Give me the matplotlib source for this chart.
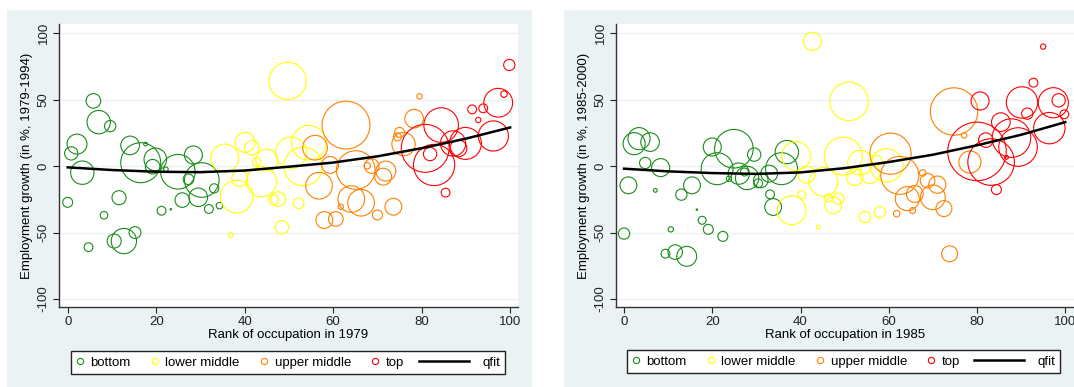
import numpy as np
import matplotlib
matplotlib.use("Agg")
import matplotlib.pyplot as plt
from matplotlib.lines import Line2D
from matplotlib.patches import Rectangle

# ---------------- data: 1979-1994 panel ----------------
bottom79_rank = [0, 0.8, 2.1, 3.3, 4.7, 5.8, 7, 8.2, 9.6, 10.5, 11.6, 12.7, 14.1, 15.2, 16.5,
                 17.6, 19.8, 19.2, 21.2, 22.2, 23.3, 24.9, 25.9, 27.3, 28.4, 30.3, 29.5, 31.9, 33.1, 34.3]
bottom79_growth = [-27.3, 9.5, 16.5, -5, -61, 49, 33, -37, 30, -56.4, -23.8, -56.4, 15.5, -50, 2.5,
                   16.5, 5, -0.5, -33.6, -2.5, -32.5, -4.3, -25.6, -10, 8.3, -10.5, -23.5, -32.3, -16.8, -29.8]
bottom79_emp = [14, 25, 56, 77, 11, 30, 77, 8, 18, 28, 28, 90, 49, 20, 225,
                2, 72, 30, 11, 3, 0.3, 169, 30, 16, 46, 169, 49, 11, 12, 6]

lowmid79_rank = [35.5, 36.8, 38.2, 38.9, 40.1, 41.6, 42.7, 43.8, 45, 46.5, 47.6, 48.4, 49.7, 50.5,
                 52.2, 53.2, 54.5]
lowmid79_growth = [6, -51.9, -23, -9.3, 17.8, 13.8, 3.3, -11.8, 4.5, -25.3, -24.8, -46, 64, 10,
                   -28, -0.3, 17.5]
lowmid79_emp = [110, 3, 151, 36, 56, 30, 10, 128, 67, 14, 30, 25, 196, 139, 16, 210, 169]

upmid79_rank = [55.9, 56.8, 58, 59.3, 60.6, 61.7, 62.9, 64.1, 65.1, 66.3, 67.7, 68.7, 70, 71.3,
                71.9, 73.6, 74.5, 75, 75.9, 78.3, 79.5]
upmid79_growth = [13.8, -14.8, -40.6, 0.8, -39.8, -30.6, 30.8, -24.8, -3, -27.6, 0.2, 0, -36.8, -8,
                  -3.8, -30.6, 22, 25.3, 16.5, 35.6, 52.4]
upmid79_emp = [86, 100, 40, 40, 30, 4, 324, 100, 210, 100, 6, 30, 14, 40, 56, 40, 9, 14, 77, 49, 4]

top79_rank = [80.8, 81.9, 82.8, 84.4, 85.4, 87.1, 88.3, 89.9, 91.4, 92.8, 93.9, 96.2, 97.3, 98.6, 99.8]
top79_growth = [13.3, 9, 0.8, 30.8, -20, 17, 13.3, 17, 42.6, 34.6, 43.4, 22.6, 47.6, 54.1, 76]
top79_emp = [324, 25, 240, 169, 11, 90, 40, 144, 11, 4, 11, 128, 117, 6, 18]

qfit79_rank = [0, 10, 20, 30, 40, 50, 60, 70, 80, 90, 100]
qfit79_growth = [-1, -3, -4.3, -4.6, -3.4, -0.5, 2.6, 7.3, 13.4, 20.6, 29]

# ---------------- data: 1985-2000 panel ----------------
bottom85_rank = [2.3, 3.4, 5.9, 4.8, 8.3, 1, 7.1, 13, 15.4, 16.5, 0, 10.6, 9.4, 11.6, 14.2, 17.7, 19.1,
                 22.4, 20, 21.1, 24.9, 29.5, 26, 27.9, 23.8, 27.3, 31, 32.9, 30.4, 33.1, 33.8, 36.9, 35.7]
bottom85_growth = [16.8, 20.6, 18, 2.3, -1.2, -14.5, -18.3, -21.5, -14.5, -32.8, -50.8, -47.6, -65.9,
                   -64.7, -67.9, -40.8, -47.6, -52.9, 14.3, -2, 13, 8.6, -5.7, -9, -9.5, -4.5, -10.8,
                   -5.7, -13, -21.3, -30.8, 10.5, -2]
bottom85_emp = [69, 69, 49, 18, 46, 40, 2, 18, 40, 0.3, 18, 4, 11, 30, 56, 9, 14,
                14, 46, 144, 210, 25, 64, 77, 4, 9, 30, 40, 11, 11, 40, 77, 144]

lowmid85_rank = [42.7, 51, 39, 41.4, 45.2, 40.3, 38, 44, 49.7, 46.3, 48.6, 47.4, 53.5, 52.3, 55.7,
                 59.5, 54.6, 58, 57.3]
lowmid85_growth = [93.8, 48.6, 7.5, -6.5, -12, -21.5, -33.3, -45.9, 7.5, -24, -24.5, -29.5, 2.5, -8.3,
                   -5.7, 0.5, -38.3, -34.6, 4.3]
lowmid85_emp = [46, 210, 117, 40, 117, 9, 117, 2, 204, 9, 18, 40, 86, 40, 56, 156, 18, 18, 14]

upmid85_rank = [60.4, 61.8, 62.5, 64.2, 65.4, 65.9, 67.7, 68.8, 70, 71, 72.5, 73.8, 74.8, 77.1, 78.4]
upmid85_growth = [9.3, -35.8, -7, -24.5, -33.5, -21, -5.2, -11, -23.5, -14, -32, -66, 41, 23, 3]
upmid85_emp = [240, 6, 204, 81, 5, 40, 6, 30, 86, 42, 36, 36, 317, 4, 69]

top85_rank = [80, 83.2, 82, 84.4, 85.4, 86.7, 87.8, 89.3, 80.7, 90.2, 91.4, 92.8, 95, 96.4, 97.3, 98.5, 99.8]
top85_growth = [11, 3, 19.5, -17.7, 33, 6.5, 21, 14.3, 48.9, 47.8, 39.4, 62.7, 89.8, 28.5, 47.6, 49.4, 38.9]
top85_emp = [484, 306, 30, 14, 49, 2, 210, 210, 46, 139, 18, 11, 4, 139, 128, 25, 11]

qfit85_rank = [0, 10, 20, 30, 40, 50, 60, 70, 80, 90, 100]
qfit85_growth = [-2, -4, -5.3, -5.9, -4.8, -1.6, 3, 8.5, 15.6, 23.5, 33]

group_labels = ["bottom", "lower middle", "upper middle", "top"]
group_colors = ["#1a8c1a", "#ffff00", "#ff8000", "#ff0000"]

# ---------------- style ----------------
plt.rcParams['font.family'] = ['Liberation Sans', 'DejaVu Sans']
plt.rcParams['font.size'] = 9.5
plt.rcParams['axes.unicode_minus'] = False

W, H = 1074, 387
BG = "#eaf2f3"
SIZE = 3.67   # points^2 per unit of employment weight


def fbox(l, t, r, b):
    # pixel box -> figure fraction [left, bottom, width, height]
    return [l / W, 1 - b / H, (r - l) / W, (b - t) / H]


def draw_panel(fig, box, groups, qx, qy, year, period):
    ax = fig.add_axes(box)
    ax.set_facecolor("white")
    for (x, y, emp), col in zip(groups, group_colors):
        ax.scatter(x, y, s=np.array(emp) * SIZE, facecolors="none", edgecolors=col,
                   linewidths=0.8, zorder=3)
    ax.plot(qx, qy, color="black", lw=1.8, zorder=4)

    ax.set_xlim(-1.9, 101.7)
    ax.set_ylim(-106, 106.8)
    ax.set_xticks([0, 20, 40, 60, 80, 100])
    ax.set_yticks([-100, -50, 0, 50, 100])
    ax.tick_params(axis="x", length=4.3, width=0.8, pad=2, colors="#222222")
    ax.tick_params(axis="y", length=4.3, width=0.8, pad=2.5, colors="#222222", labelrotation=90)
    for lab in ax.get_yticklabels():
        lab.set_va("center")
    ax.yaxis.grid(True, color=BG, lw=1)
    ax.set_axisbelow(True)
    for s in ["top", "right"]:
        ax.spines[s].set_visible(False)
    for s in ["left", "bottom"]:
        ax.spines[s].set_color("#333333")
        ax.spines[s].set_linewidth(1)

    ax.set_xlabel(f"Rank of occupation in {year}")
    ax.set_ylabel(f"Employment growth (in %, {period})")
    ax.xaxis.set_label_coords(0.5, -0.077)
    ax.yaxis.set_label_coords(-0.057, 0.5)
    return ax


def draw_legend(fig, left, right, top, bottom):
    fig.add_artist(Rectangle((left / W, 1 - bottom / H), (right - left) / W, (bottom - top) / H,
                             transform=fig.transFigure, fc="white", ec="#222222", lw=1, zorder=4))
    yc = 1 - (top + bottom) / 2 / H
    handles = [Line2D([], [], marker="o", ls="none", mfc="none", mec=c, ms=4.5, mew=0.8)
               for c in group_colors]
    fig.legend(handles, group_labels, loc="center left", bbox_to_anchor=((left + 2) / W, yc),
               ncol=4, frameon=False, handlelength=1.0, handletextpad=0.3, columnspacing=1.35,
               borderpad=0, borderaxespad=0)
    qline = Line2D([], [], color="black", lw=1.8)
    fig.legend([qline], ["qfit"], loc="center right", bbox_to_anchor=((right - 5) / W, yc),
               frameon=False, handlelength=3.8, handletextpad=1.0, borderpad=0, borderaxespad=0)


fig = plt.figure(figsize=(W / 100, H / 100), dpi=100)
fig.patch.set_facecolor("white")
fig.add_artist(Rectangle((7 / W, 0), (532 - 7) / W, (H - 10) / H, transform=fig.transFigure,
                         fc=BG, ec="none", zorder=0))
fig.add_artist(Rectangle((564 / W, 0), (W - 564) / W, (H - 10) / H, transform=fig.transFigure,
                         fc=BG, ec="none", zorder=0))

groups79 = [(bottom79_rank, bottom79_growth, bottom79_emp),
            (lowmid79_rank, lowmid79_growth, lowmid79_emp),
            (upmid79_rank, upmid79_growth, upmid79_emp),
            (top79_rank, top79_growth, top79_emp)]
groups85 = [(bottom85_rank, bottom85_growth, bottom85_emp),
            (lowmid85_rank, lowmid85_growth, lowmid85_emp),
            (upmid85_rank, upmid85_growth, upmid85_emp),
            (top85_rank, top85_growth, top85_emp)]

ax1 = draw_panel(fig, fbox(59.3, 24, 517.7, 307), groups79, qfit79_rank, qfit79_growth,
                 1979, "1979-1994")
ax2 = draw_panel(fig, fbox(616.3, 24, 1074.5, 307), groups85, qfit85_rank, qfit85_growth,
                 1985, "1985-2000")
ax2.set_xlim(-1.75, 102.1)

draw_legend(fig, 71, 505, 351, 374)
draw_legend(fig, 627, 1060, 350, 373)

fig.savefig("out.png", dpi=100, facecolor="white")
